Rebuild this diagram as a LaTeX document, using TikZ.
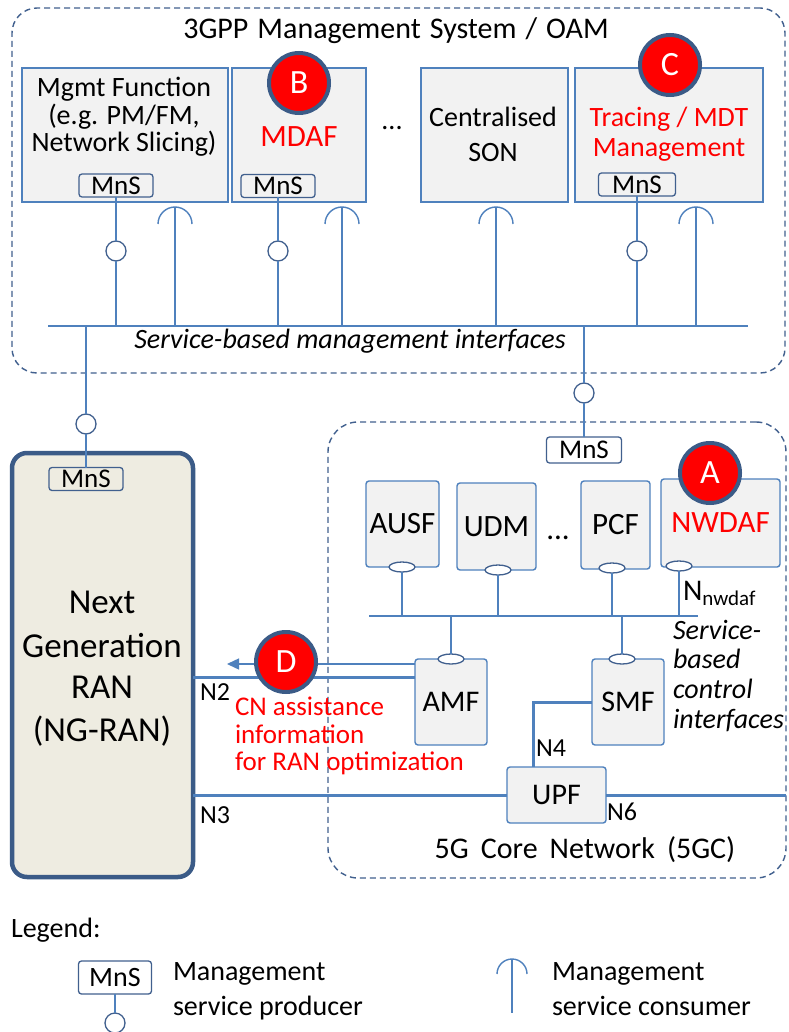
\documentclass[tikz,border=0pt]{standalone}
\usepackage{fontspec}
\setmainfont{Carlito}
\usetikzlibrary{arrows.meta,shapes.geometric}
\definecolor{lb}{HTML}{4F81BD}
\definecolor{db}{HTML}{41608E}
\definecolor{bd}{HTML}{3B5B87}
\definecolor{gfill}{HTML}{F2F2F2}
\definecolor{ranfill}{HTML}{EEECE1}
\definecolor{rd}{HTML}{FF0000}
\newcommand{\fs}[1]{\fontsize{#1}{#1}\selectfont}
\newcommand{\consumer}[2]{%
  \coordinate (#1) at #2;
  \draw[wire] (#1) -- (#1 |- busL);
  \draw[wire] ([xshift=-17pt,yshift=-17pt]#1) arc[start angle=180,end angle=0,radius=17pt];}
\begin{document}
\begin{tikzpicture}[x=1pt,y=-1pt,
  every node/.style={inner sep=0pt, outer sep=0pt},
  txt/.style={anchor=base, font=\fs{28}},
  ltxt/.style={anchor=base west, font=\fs{28}},
  fbox/.style={draw=lb, fill=gfill, line width=1.4pt},
  nfbox/.style={fbox, rounded corners=3pt, font=\fs{31}},
  mns/.style={draw=db, line width=1.3pt, rounded corners=3pt, minimum width=74pt, minimum height=23pt, font=\fs{27}},
  prod/.style={circle, draw=db, fill=white, line width=1.3pt, minimum size=20pt},
  ell/.style={ellipse, draw=db, fill=white, line width=1.3pt, minimum width=26pt, minimum height=10pt},
  wire/.style={draw=lb, line width=1.4pt},
  thk/.style={draw=lb, line width=3pt},
  dbox/.style={draw=db, line width=1.4pt, dash pattern=on 6pt off 4pt},
  badge/.style={circle, fill=rd, draw=bd, line width=4pt, minimum size=60pt, text=white, font=\fs{34}},
]
\fill[white] (0,0) rectangle (788,1032);
\useasboundingbox (0,0) rectangle (788,1032);

% containers
\node[dbox, rounded corners=25pt, minimum width=773pt, minimum height=365pt] (oam) at (398.5,190.5) {};
\node[dbox, rounded corners=30pt, minimum width=458pt, minimum height=456pt] (core) at (557,650) {};
\node[txt, font=\fs{30}] (oamt) at (396,39) {\spaceskip=9pt 3GPP Management System / OAM};
\node[txt, font=\fs{30}] (coret) at (585,858) {\spaceskip=12pt 5G Core Network (5GC)};

% management functions
\node[fbox, minimum width=206pt, minimum height=134pt] (mgmt) at (125,135) {};
\node[fbox, minimum width=134pt, minimum height=134pt] (mdaf) at (299,135) {};
\node[fbox, minimum width=147pt, minimum height=134pt] (son) at (494.5,135) {};
\node[fbox, minimum width=188pt, minimum height=134pt] (trace) at (669,135) {};
\node[txt] (mgmt1) at (124,97) {Mgmt Function};
\node[txt] (mgmt2) at (124,125) {(e.g. PM/FM,};
\node[txt] (mgmt3) at (124,152) {Network Slicing)};
\node[txt, text=rd, font=\fs{31}] (mdaft) at (299,147) {MDAF};
\node[txt] (dots1) at (392,130) {...};
\node[txt] (son1) at (493,127) {Centralised};
\node[txt] (son2) at (493,162) {SON};
\node[txt, text=rd] (tr1) at (669,127) {Tracing / MDT};
\node[txt, text=rd] (tr2) at (669,157) {Management};

\node[mns] (mns1) at (116,185.5) {MnS};
\node[mns] (mns2) at (278,186) {MnS};
\node[mns, minimum width=77pt] (mns3) at (637,184.5) {MnS};

% management bus
\coordinate (busL) at (48,326);
\coordinate (busR) at (748,326);
\draw[wire] (busL) -- (busR);
\node[txt, font=\fs{28}\itshape] (sbmi) at (350,348) {Service-based management interfaces};

\node[prod] (p1) at (116,251) {};
\node[prod] (p2) at (278,251) {};
\node[prod] (p3) at (637,251) {};
\draw[wire] (mns1) -- (p1);
\draw[wire] (p1) -- (p1 |- busL);
\draw[wire] (mns2) -- (p2);
\draw[wire] (p2) -- (p2 |- busL);
\draw[wire] (mns3) -- (p3);
\draw[wire] (p3) -- (p3 |- busL);
\consumer{c1}{(175,207)}
\consumer{c2}{(342,207)}
\consumer{c3}{(496,207)}
\consumer{c4}{(696,207)}

% NG-RAN
\node[draw=bd, fill=ranfill, line width=4.5pt, rounded corners=15pt, minimum width=181pt, minimum height=424pt] (ran) at (102.5,665) {};
\node[mns] (mnsran) at (86,479) {MnS};
\node[prod] (pran) at (86,424) {};
\coordinate (bran) at (86,326);
\draw[wire] (bran) -- (pran);
\draw[wire] (pran) -- (mnsran);
\node[txt, font=\fs{35}] (ran1) at (102,613) {Next};
\node[txt, font=\fs{35}] (ran2) at (102,657) {Generation};
\node[txt, font=\fs{35}] (ran3) at (102,698) {RAN};
\node[txt, font=\fs{35}] (ran4) at (102,741) {(NG-RAN)};

% 5GC
\node[mns, minimum width=75pt, minimum height=26pt] (mnscore) at (584,450) {MnS};
\node[prod] (pcore) at (584,393) {};
\coordinate (bcore) at (584,326);
\draw[wire] (bcore) -- (pcore);
\draw[wire] (pcore) -- (mnscore);

\node[nfbox, minimum width=73pt, minimum height=86pt] (ausf) at (402.5,524) {AUSF};
\node[nfbox, minimum width=79pt, minimum height=87pt] (udm) at (496.5,526.5) {UDM};
\node[nfbox, minimum width=69pt, minimum height=88pt] (pcf) at (615.5,525) {PCF};
\node[nfbox, minimum width=119pt, minimum height=88pt, text=rd] (nwdaf) at (720.5,523) {NWDAF};
\node[txt, font=\fs{31}] (dots2) at (558,539) {...};
\node[nfbox, minimum width=72pt, minimum height=86pt, font=\fs{30}] (amf) at (451,702) {AMF};
\node[nfbox, minimum width=72pt, minimum height=86pt, font=\fs{30}] (smf) at (628,702) {SMF};
\node[nfbox, minimum width=99pt, minimum height=56pt, font=\fs{30}] (upf) at (556.5,795) {UPF};

\coordinate (cbL) at (369,616);
\coordinate (cbR) at (698,616);
\draw[wire] (cbL) -- (cbR);
\node[ell] (eausf) at (402,567) {};
\node[ell] (eudm) at (498,570) {};
\node[ell] (epcf) at (612,568) {};
\node[ell] (enw) at (679,566) {};
\node[ell] (eamf) at (451,659) {};
\node[ell] (esmf) at (622,659) {};
\draw[wire] (eausf) -- (eausf |- cbL);
\draw[wire] (eudm) -- (eudm |- cbL);
\draw[wire] (epcf) -- (epcf |- cbL);
\draw[wire] (enw) -- (enw |- cbL);
\draw[wire] (eamf) -- (eamf |- cbL);
\draw[wire] (esmf) -- (esmf |- cbL);
\node[ltxt, font=\fs{30}] (nnw) at (683,600) {N\raisebox{-5pt}{\fs{21}nwdaf}};
\node[ltxt, font=\fs{28}\itshape] (sbc1) at (673,639) {Service-};
\node[ltxt, font=\fs{28}\itshape] (sbc2) at (673,668) {based};
\node[ltxt, font=\fs{28}\itshape] (sbc3) at (673,698) {control};
\node[ltxt, font=\fs{28}\itshape] (sbc4) at (673,728) {interfaces};

% reference points
\coordinate (n2a) at ([yshift=25pt]amf.west);
\coordinate (n2b) at ([yshift=38pt]amf.west);
\coordinate (n2tip) at (227,664);
\draw[thk] (n2a) -- (ran.east |- n2a);
\draw[wire, -{Triangle[length=12pt,width=11pt]}] (n2b) -- (n2tip);
\draw[thk] (ran.east |- upf.west) -- (upf.west);
\draw[thk] (smf.west) -| ([xshift=-23.5pt]upf.north);
\draw[thk] (upf.east) -- (core.east |- upf.east);
\node[ltxt, font=\fs{26}] (n2) at (200,700) {N2};
\node[ltxt, font=\fs{26}] (n3) at (200,823) {N3};
\node[ltxt, font=\fs{26}] (n4) at (536,756) {N4};
\node[ltxt, font=\fs{26}] (n6) at (607,820) {N6};
\node[ltxt, font=\fs{27}, text=rd] (cn1) at (235,715) {CN assistance};
\node[ltxt, font=\fs{27}, text=rd] (cn2) at (235,743) {information};
\node[ltxt, font=\fs{27}, text=rd] (cn3) at (235,770) {for RAN optimization};

% badges
\node[badge] (bA) at (710,473) {A};
\node[badge] (bB) at (299,83) {B};
\node[badge] (bC) at (670,65) {C};
\node[badge] (bD) at (286,662) {D};

% legend
\node[ltxt] (leg) at (11,937) {Legend:};
\node[mns, minimum width=73pt, minimum height=33pt, font=\fs{28}] (mnsleg) at (115,977.5) {MnS};
\node[prod] (pleg) at (115,1023) {};
\draw[wire] (mnsleg) -- (pleg);
\node[ltxt] (lp1) at (173,980) {Management};
\node[ltxt] (lp2) at (173,1015) {service producer};
\coordinate (cleg) at (512,959);
\coordinate (clegb) at (512,1013);
\draw[wire] (cleg) -- (clegb);
\draw[wire] ([xshift=-15pt,yshift=-15pt]cleg) arc[start angle=180,end angle=0,radius=15pt];
\node[ltxt] (lc1) at (552,980) {Management};
\node[ltxt] (lc2) at (552,1015) {service consumer};
\end{tikzpicture}
\end{document}
